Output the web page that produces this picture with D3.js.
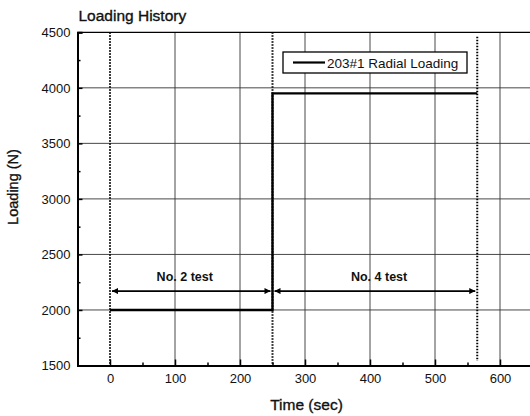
<!DOCTYPE html>
<html><head><meta charset="utf-8">
<script src="https://cdn.jsdelivr.net/npm/d3@7"></script>
<style>body{margin:0;background:#fff}svg{display:block;font-family:Arial,"Liberation Sans",sans-serif}</style>
</head><body><div id="c"></div>
<script>
const timeValues = [0, 250, 250, 565];
const loadValues = [2000, 2000, 3950, 3950];
const seriesName = "203#1 Radial Loading";
const markerTimes = [0, 250, 565];
const segmentFrom = [0, 250];
const segmentTo = [250, 565];
const segmentLabels = ["No. 2 test", "No. 4 test"];
const labelTimes = [115, 414];
const arrowLoad = 2170;
const xTicks = [0,100,200,300,400,500,600];
const yTicks = [1500,2000,2500,3000,3500,4000,4500];
const xMinor = [50,150,250,350,450,550];
const yMinor = [1750,2250,2750,3250,3750,4250];

const W=530,H=416;
const FONT="Arial,'Liberation Sans',sans-serif";
const svg=d3.select("#c").append("svg").attr("width",W).attr("height",H);
const x=d3.scaleLinear().domain([-50,650]).range([77.5,532.5]);
const y=d3.scaleLinear().domain([1500,4500]).range([365.5,32.3]);

const defs=svg.append("defs");
["s","e"].forEach(k=>{
  defs.append("marker").attr("id","a"+k).attr("viewBox","0 0 10 10").attr("refX",k=="e"?10:0).attr("refY",5)
   .attr("markerWidth",9).attr("markerHeight",6).attr("markerUnits","userSpaceOnUse").attr("orient","auto")
   .append("path").attr("d",k=="e"?"M0,0L10,5L0,10Z":"M10,0L0,5L10,10Z").attr("fill","#000");
});

// grid
const g=svg.append("g");
g.selectAll(".gx").data(xTicks.filter(d=>d>0)).join("line")
 .attr("x1",d=>x(d)).attr("x2",d=>x(d)).attr("y1",y(1500)).attr("y2",y(4500))
 .attr("stroke","#333").attr("stroke-width",0.9);
g.selectAll(".gy").data(yTicks.filter(d=>d>1500&&d<4500)).join("line")
 .attr("y1",d=>y(d)).attr("y2",d=>y(d)).attr("x1",x(-50)).attr("x2",x(650))
 .attr("stroke","#333").attr("stroke-width",0.9);

// top border
svg.append("line").attr("x1",x(-50)).attr("x2",x(650)).attr("y1",y(4500)).attr("y2",y(4500)).attr("stroke","#000").attr("stroke-width",1.3);

// axes
const xa=svg.append("g").attr("transform",`translate(0,${y(1500)})`)
 .call(d3.axisBottom(x).tickValues(xTicks).tickSize(-6).tickPadding(8).tickFormat(d3.format("d")));
xa.select(".domain").attr("stroke-width",2);
xa.selectAll(".tick line").attr("stroke-width",1.5);
xa.selectAll("text").attr("font-size",13).attr("font-family",FONT).attr("fill","#111");
svg.append("g").attr("transform",`translate(0,${y(1500)})`)
 .call(d3.axisBottom(x).tickValues(xMinor).tickSize(-3).tickFormat(""))
 .call(s=>s.select(".domain").remove()).selectAll("line").attr("stroke-width",1.5);

const ya=svg.append("g").attr("transform",`translate(${x(-50)},0)`)
 .call(d3.axisLeft(y).tickValues(yTicks).tickSize(-5).tickPadding(7).tickFormat(d3.format("d")));
ya.select(".domain").attr("stroke-width",2);
ya.selectAll(".tick line").attr("stroke-width",1.5);
ya.selectAll("text").attr("font-size",13).attr("font-family",FONT).attr("fill","#111");
svg.append("g").attr("transform",`translate(${x(-50)},0)`)
 .call(d3.axisLeft(y).tickValues(yMinor).tickSize(-3).tickFormat(""))
 .call(s=>s.select(".domain").remove()).selectAll("line").attr("stroke-width",1.5);

// dotted markers
svg.selectAll(".dm").data(markerTimes).join("line")
 .attr("x1",d=>x(d)).attr("x2",d=>x(d)).attr("y1",d=>d==565?y(4460):y(4500)).attr("y2",d=>d==565?y(1540):y(1500))
 .attr("stroke","#000").attr("stroke-width",2).attr("stroke-dasharray","1.5,1.5");

// data line
const pts=timeValues.map((t,i)=>[t,loadValues[i]]);
svg.append("path").datum(pts).attr("d",d3.line().x(d=>x(d[0])).y(d=>y(d[1])))
 .attr("fill","none").attr("stroke","#000").attr("stroke-width",2.4);

// arrows
segmentLabels.forEach((lab,i)=>{
  svg.append("line").attr("x1",x(segmentFrom[i])+2).attr("x2",x(segmentTo[i])-2).attr("y1",y(arrowLoad)).attr("y2",y(arrowLoad))
   .attr("stroke","#000").attr("stroke-width",1.8).attr("marker-start","url(#as)").attr("marker-end","url(#ae)");
  svg.append("text").attr("x",x(labelTimes[i])).attr("y",y(arrowLoad)-10).attr("text-anchor","middle")
   .attr("font-size",12.5).attr("font-weight","bold").attr("fill","#111").text(lab);
});

// legend
const lg=svg.append("g");
lg.append("rect").attr("x",283).attr("y",52).attr("width",184).attr("height",21).attr("fill","#fff").attr("stroke","#000").attr("stroke-width",1.3);
lg.append("line").attr("x1",293).attr("x2",325).attr("y1",62.5).attr("y2",62.5).attr("stroke","#000").attr("stroke-width",2.2);
lg.append("text").attr("x",327).attr("y",67.5).attr("font-size",13.5).attr("fill","#111").text(seriesName);

// titles
svg.append("text").attr("x",78.5).attr("y",20.7).attr("font-size",15.5).attr("fill","#111")
 .attr("stroke","#111").attr("stroke-width",0.35).text("Loading History");
svg.append("text").attr("x",306.5).attr("y",410).attr("text-anchor","middle").attr("font-size",15.5).attr("fill","#111")
 .attr("stroke","#111").attr("stroke-width",0.35).text("Time (sec)");
svg.append("text").attr("transform",`translate(17.5,187) rotate(-90)`).attr("text-anchor","middle")
 .attr("font-size",14.5).attr("fill","#111").attr("stroke","#111").attr("stroke-width",0.35).text("Loading (N)");
</script></body></html>
